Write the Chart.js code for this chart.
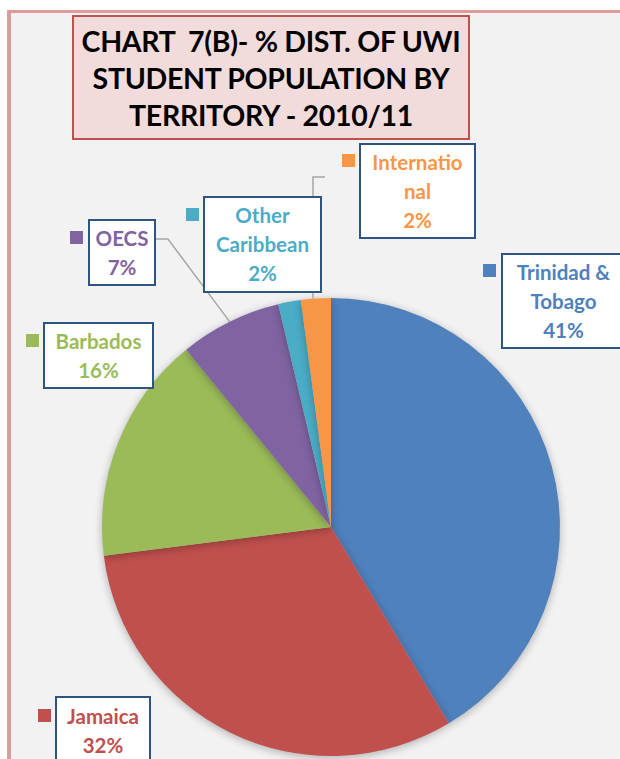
<!DOCTYPE html>
<html lang="en">
<head>
    <meta charset="UTF-8">
    <title>UWI Student Population by Territory 2010/11</title>
    <script src="https://cdn.jsdelivr.net/npm/chart.js@4.4.2/dist/chart.umd.min.js"></script>
    <style>
        body { margin: 0; background: #ffffff; font-family: 'Lato', sans-serif; }
        #wrap { position: relative; width: 620px; height: 759px; overflow: hidden; }
        #frame {
            position: absolute; left: 7px; top: 10px; width: 640px; height: 780px;
            background: #f2f2f2; border-left: 4px solid #dc9c9a; border-top: 3px solid #dc9c9a;
        }
        #pieChart { position: absolute; left: 0; top: 0; }
        .title-box {
            position: absolute; left: 72px; top: 15px; width: 398px; height: 125px;
            background: #f2dcdb; border: 2px solid #c0504d;
            font-weight: 700; font-size: 28.5px; line-height: 37px; color: #000;
            text-align: center; padding-top: 6px; box-sizing: border-box; letter-spacing: -0.3px;
        }
        .lbl {
            position: absolute; background: #fff; border: 2px solid #2f5482;
            box-sizing: border-box; text-align: center;
            font-weight: 700; font-size: 20.5px; line-height: 29px;
            display: flex; flex-direction: column; justify-content: center;
        }
        .mark { position: absolute; width: 13px; height: 13px; }
    </style>
</head>
<body>
<div id="wrap">
    <div id="frame"></div>
    <canvas id="pieChart" width="620" height="759"></canvas>
    <div class="title-box">CHART&nbsp; 7(B)- % DIST. OF UWI<br>STUDENT POPULATION BY<br>TERRITORY - 2010/11</div>
</div>

<script>
    // --- data ---
    const territories = ['Trinidad & Tobago', 'Jamaica', 'Barbados', 'OECS', 'Other Caribbean', 'International'];
    const shares = [41.4, 31.6, 16.1, 7.2, 1.6, 2.1];
    const labelLines = [['Trinidad &', 'Tobago'], ['Jamaica'], ['Barbados'], ['OECS'], ['Other', 'Caribbean'], ['Internatio', 'nal']];
    const sliceColors = ['#4f81bd', '#c0504d', '#9bbb59', '#8064a2', '#4bacc6', '#f79646'];

    // label box placement [left, top, width, height] and marker [left, top]
    const boxPos = [
        [501, 253, 125, 96],
        [55, 696, 96, 70],
        [43, 322, 111, 67],
        [88, 219, 68, 67],
        [203, 196, 119, 97],
        [359, 143, 117, 96]
    ];
    const markPos = [[483, 264], [38, 709], [26, 334], [70, 231], [186, 208], [342, 154]];

    // leader lines: slice index -> elbow points (from the box towards the slice)
    const leaders = {
        3: [[155, 239], [168, 239]],
        5: [[325, 177], [313, 177]]
    };

    const wrap = document.getElementById('wrap');
    territories.forEach((name, i) => {
        const [x, y, w, h] = boxPos[i];
        const box = document.createElement('div');
        box.className = 'lbl';
        box.style.left = x + 'px'; box.style.top = y + 'px';
        box.style.width = w + 'px'; box.style.height = h + 'px';
        box.style.color = sliceColors[i];
        box.title = name;
        labelLines[i].concat([Math.round(shares[i]) + '%']).forEach(t => {
            const line = document.createElement('div');
            line.textContent = t;
            box.appendChild(line);
        });
        wrap.appendChild(box);

        const m = document.createElement('div');
        m.className = 'mark';
        m.style.left = markPos[i][0] + 'px'; m.style.top = markPos[i][1] + 'px';
        m.style.background = sliceColors[i];
        wrap.appendChild(m);
    });

    // soft shadow under the pie
    const pieShadow = {
        id: 'pieShadow',
        beforeDatasetsDraw(chart) {
            const c = chart.ctx;
            c.save();
            c.shadowColor = 'rgba(0,0,0,0.28)';
            c.shadowBlur = 9;
            c.shadowOffsetY = 2;
        },
        afterDatasetsDraw(chart) {
            chart.ctx.restore();
        }
    };

    // leader lines from label boxes to slice edge
    const leaderLines = {
        id: 'leaderLines',
        afterDraw(chart) {
            const c = chart.ctx;
            const arcs = chart.getDatasetMeta(0).data;
            c.save();
            c.strokeStyle = '#a6a6a6';
            c.lineWidth = 1.5;
            Object.keys(leaders).forEach(k => {
                const arc = arcs[k];
                const mid = (arc.startAngle + arc.endAngle) / 2;
                const ex = arc.x + Math.cos(mid) * arc.outerRadius;
                const ey = arc.y + Math.sin(mid) * arc.outerRadius;
                const pts = leaders[k];
                c.beginPath();
                c.moveTo(pts[0][0], pts[0][1]);
                for (let j = 1; j < pts.length; j++) c.lineTo(pts[j][0], pts[j][1]);
                if (k === '5') c.lineTo(pts[pts.length - 1][0], ey);
                else c.lineTo(ex, ey);
                c.stroke();
            });
            c.restore();
        }
    };

    new Chart(document.getElementById('pieChart'), {
        type: 'pie',
        data: {
            labels: territories,
            datasets: [{
                data: shares,
                backgroundColor: sliceColors,
                borderWidth: 0
            }]
        },
        options: {
            responsive: false,
            animation: false,
            devicePixelRatio: 1,
            layout: { padding: { left: 102, right: 60, top: 298, bottom: 3 } },
            plugins: {
                legend: { display: false },
                title: { display: false },
                tooltip: { enabled: false }
            }
        },
        plugins: [pieShadow, leaderLines]
    });
</script>
</body>
</html>
